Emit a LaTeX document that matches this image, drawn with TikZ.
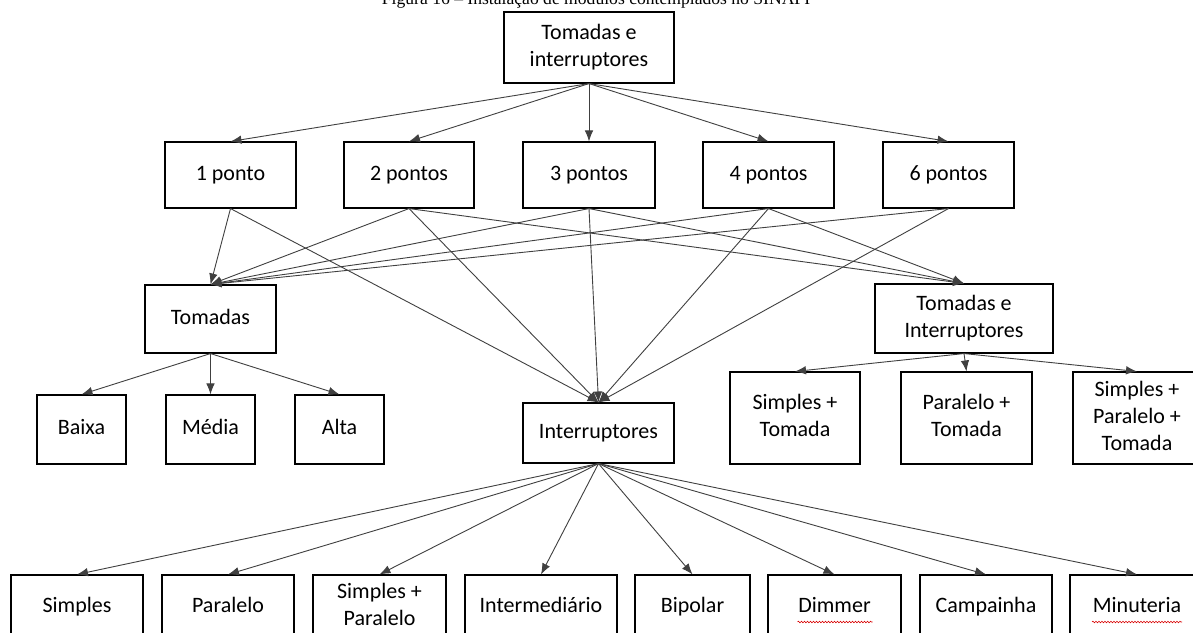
\documentclass[tikz,border=0pt]{standalone}
\usepackage{fontspec}
\setmainfont{Carlito}
\newfontfamily\capfont{Liberation Serif}
\usetikzlibrary{arrows.meta,decorations.pathmorphing}
\newcommand\bxl[1]{\strut#1}
\begin{document}
\begin{tikzpicture}[x=1pt,y=-1pt,
  box/.style={draw=black,line width=1.1pt,fill=white,align=center,inner sep=0pt,
    font=\fontsize{22}{27}\selectfont},
  conn/.style={draw=black!75,line width=0.9pt,-{Latex[length=11pt,width=8.5pt]}},
  wavy/.style={draw=red!85!black,line width=0.6pt,decorate,
    decoration={snake,amplitude=0.8pt,segment length=3pt}}]
\useasboundingbox (0,0) rectangle (1193,632);
\fill[white] (0,0) rectangle (1193,632);
% caption (cut at top)
\node[anchor=base,inner sep=0pt,font=\capfont\fontsize{17.6}{21}\selectfont] (cap) at (596,4.5) {Figura 16 – Instalação de módulos contemplados no SINAPI};
% top
\node[box,minimum width=170pt,minimum height=71pt] (top) at (589,47.5) {\bxl{Tomadas e}\\\bxl{interruptores}};
% row 1
\node[box,minimum width=131pt,minimum height=66pt] (p1) at (230.5,175) {\bxl{1 ponto}};
\node[box,minimum width=130pt,minimum height=66pt] (p2) at (409,175) {\bxl{2 pontos}};
\node[box,minimum width=132pt,minimum height=66pt] (p3) at (589,175) {\bxl{3 pontos}};
\node[box,minimum width=131pt,minimum height=66pt] (p4) at (768.5,175) {\bxl{4 pontos}};
\node[box,minimum width=131pt,minimum height=66pt] (p6) at (948.5,175) {\bxl{6 pontos}};
% row 2
\node[box,minimum width=131pt,minimum height=68pt] (tom) at (210.5,319) {\bxl{Tomadas}};
\node[box,minimum width=178pt,minimum height=69pt] (tei) at (964,318.5) {\bxl{Tomadas e}\\\bxl{Interruptores}};
% row 3
\node[box,minimum width=89pt,minimum height=69pt] (baixa) at (81.5,429.5) {\bxl{Baixa}};
\node[box,minimum width=89pt,minimum height=69pt] (media) at (210.5,429.5) {\bxl{Média}};
\node[box,minimum width=89pt,minimum height=69pt] (alta) at (339.5,429.5) {\bxl{Alta}};
\node[box,minimum width=151pt,minimum height=60pt] (int) at (598.5,433) {\bxl{Interruptores}};
\node[box,minimum width=130pt,minimum height=92pt] (st) at (795,418) {\bxl{Simples +}\\\bxl{Tomada}};
\node[box,minimum width=131pt,minimum height=92pt] (pt) at (966.5,418) {\bxl{Paralelo +}\\\bxl{Tomada}};
\node[box,minimum width=128pt,minimum height=92pt] (spt) at (1137,418) {\bxl{Simples +}\\\bxl{Paralelo +}\\\bxl{Tomada}};
% row 4
\node[box,minimum width=132pt,minimum height=64pt] (simp) at (77,607) {\bxl{Simples}};
\node[box,minimum width=132pt,minimum height=64pt] (par) at (228,607) {\bxl{Paralelo}};
\node[box,minimum width=133pt,minimum height=64pt] (sp) at (379.5,607) {\bxl{Simples +}\\\bxl{Paralelo}};
\node[box,minimum width=152pt,minimum height=64pt] (inter) at (541,607) {\bxl{Intermediário}};
\node[box,minimum width=115pt,minimum height=64pt] (bip) at (692.5,607) {\bxl{Bipolar}};
\node[box,minimum width=133pt,minimum height=64pt] (dim) at (834.5,607) {\bxl{Dimmer}};
\node[box,minimum width=132pt,minimum height=64pt] (camp) at (986,607) {\bxl{Campainha}};
\node[box,minimum width=134pt,minimum height=64pt] (min) at (1137,607) {\bxl{Minuteria}};
% spell-check underlines
\draw[wavy] ([xshift=-37pt,yshift=-15pt]dim.center) -- ([xshift=38pt,yshift=-15pt]dim.center);
\draw[wavy] ([xshift=-45pt,yshift=-15pt]min.center) -- ([xshift=45pt,yshift=-15pt]min.center);
% connectors
\foreach \t in {p1,p2,p3,p4,p6} \draw[conn] (top.south) -- (\t.north);
\foreach \s in {p1,p2,p3,p4,p6} \draw[conn] (\s.south) -- (tom.north);
\foreach \s in {p1,p2,p3,p4,p6} \draw[conn] (\s.south) -- (int.north);
\foreach \s in {p2,p3,p4} \draw[conn] (\s.south) -- (tei.north);
\foreach \t in {baixa,media,alta} \draw[conn] (tom.south) -- (\t.north);
\foreach \t in {st,pt,spt} \draw[conn] (tei.south) -- (\t.north);
\foreach \t in {simp,par,sp,inter,bip,dim,camp,min} \draw[conn] (int.south) -- (\t.north);
\end{tikzpicture}
\end{document}
